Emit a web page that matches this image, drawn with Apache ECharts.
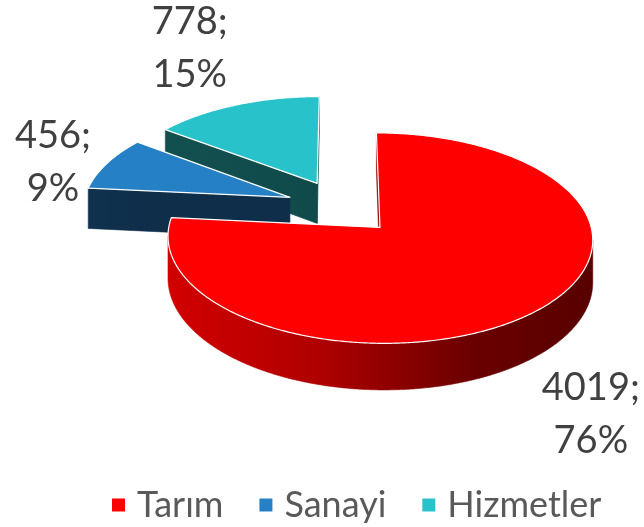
<!DOCTYPE html>
<html><head><meta charset="utf-8">
<script src="https://cdn.jsdelivr.net/npm/echarts@6/dist/echarts.min.js"></script>
<style>html,body{margin:0;padding:0;background:#fff}#c{width:644px;height:527px}</style>
</head><body><div id="c"></div>
<script>
// ---- data ----
const categories = ['Tarım', 'Sanayi', 'Hizmetler'];
const values = [4019, 456, 778];
const percentLabels = ['76%', '9%', '15%'];

// ---- style ----
const topColors = ['#FF0000', '#2680C6', '#27C2CA'];
const sideColors = [
  [[0, '#D20000'], [0.35, '#B00000'], [0.72, '#6A0000'], [1, '#580000']],
  [[0, '#10324F'], [1, '#0E2E4A']],
  [[0, '#12504F'], [1, '#104A4A']]
];
const view = { cx: 341.6, cy: 207, sx: 207, sy: 100, k: 0.1, T: 41, explode: 0.27 };
const labelOffsets = [[54, 104], [-54, -1], [-46, -57]];
const seriesZ = [4, 3, 2];

const total = values.reduce((a, b) => a + b, 0);
const starts = [];
let acc = 0;
values.forEach(v => { starts.push(acc / total * 2 * Math.PI); acc += v; });

function area(pts) {
  let s = 0;
  for (let j = 0; j < pts.length; j++) {
    const p = pts[j], q = pts[(j + 1) % pts.length];
    s += p[0] * q[1] - q[0] * p[1];
  }
  return s / 2;
}

function buildSlice(i, value) {
  const a0 = starts[i];
  const a1 = a0 + value / total * 2 * Math.PI;
  const mid = (a0 + a1) / 2;
  const e = view.explode;
  const ox = e * Math.sin(mid), oz = e * Math.cos(mid);
  const P = (th, r, down) => {
    const X = ox + r * Math.sin(th), Z = oz + r * Math.cos(th);
    const w = 1 + view.k * Z;
    return [view.cx + view.sx * X / w, view.cy + (-view.sy * Z + view.T * down) / w];
  };
  const n = Math.max(8, Math.ceil((a1 - a0) / (Math.PI / 360)));
  const ths = [];
  for (let j = 0; j <= n; j++) ths.push(a0 + (a1 - a0) * j / n);
  const rimTop = ths.map(t => P(t, 1, 0));
  const rimBot = ths.map(t => P(t, 1, 1));
  const xs = rimTop.map(p => p[0]);
  const gx0 = Math.min.apply(null, xs), gx1 = Math.max.apply(null, xs);
  const grad = new echarts.graphic.LinearGradient(gx0, 0, gx1, 0,
    sideColors[i].map(s => ({ offset: s[0], color: s[1] })), true);
  const children = [];
  let z2 = 1;
  const addSide = pts => children.push({
    type: 'polygon', z2: z2++, shape: { points: pts },
    style: { fill: grad, stroke: grad, lineWidth: 0.6 }
  });
  const w0 = [P(a0, 0, 0), P(a0, 1, 0), P(a0, 1, 1), P(a0, 0, 1)];
  if (area(w0) < 0) addSide(w0);
  const w1 = [P(a1, 1, 0), P(a1, 0, 0), P(a1, 0, 1), P(a1, 1, 1)];
  if (area(w1) < 0) addSide(w1);
  let run = null;
  const flush = () => {
    if (run && run.length > 1) {
      const pts = run.map(j => rimTop[j]).concat(run.slice().reverse().map(j => rimBot[j]));
      addSide(pts);
    }
    run = null;
  };
  for (let j = 0; j < n; j++) {
    const q = [rimTop[j], rimTop[j + 1], rimBot[j + 1], rimBot[j]];
    if (area(q) < 0) {
      if (!run) run = [j];
      run.push(j + 1);
    } else flush();
  }
  flush();
  children.push({
    type: 'polygon', z2: z2++, shape: { points: [P(a0, 0, 0)].concat(rimTop) },
    style: { fill: topColors[i], stroke: '#FFFFFF', lineWidth: 1.2, lineJoin: 'round' }
  });
  const anchor = P(mid, 1, 0);
  children.push({
    type: 'text', z2: z2++,
    x: anchor[0] + labelOffsets[i][0], y: anchor[1] + labelOffsets[i][1],
    style: {
      text: values[i] + ';\n' + percentLabels[i],
      fill: '#404040', font: '38px Lato', align: 'center', verticalAlign: 'middle',
      lineHeight: 53
    }
  });
  return { type: 'group', children };
}

const series = categories.map((name, i) => ({
  type: 'custom', name, coordinateSystem: 'none', z: seriesZ[i],
  itemStyle: { color: topColors[i] },
  data: [values[i]],
  renderItem: (params, api) => buildSlice(i, api.value(0))
}));

const chart = echarts.init(document.getElementById('c'), null, { renderer: 'canvas' });
chart.setOption({
  animation: false,
  backgroundColor: '#FFFFFF',
  legend: {
    data: categories, left: 112, top: 485, padding: 0,
    icon: 'rect', itemWidth: 13, itemHeight: 13, itemGap: 36,
    textStyle: { fontFamily: 'Lato', fontSize: 36, color: '#595959', lineHeight: 40, padding: [0, 0, 0, 7] }
  },
  series
});
</script></body></html>
